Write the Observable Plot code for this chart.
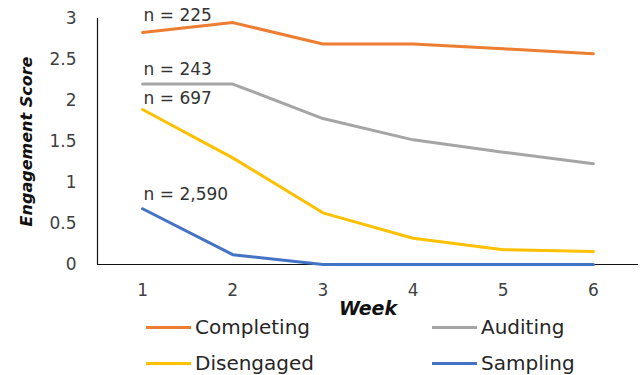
<!DOCTYPE html>
<html>
<head>
<meta charset="utf-8">
<script src="https://cdn.jsdelivr.net/npm/d3@7"></script>
<script src="https://cdn.jsdelivr.net/npm/@observablehq/plot@0.6"></script>
<style>
  html, body { margin: 0; padding: 0; background: #fff; }
  #chart { width: 641px; font-family: "DejaVu Sans", sans-serif; }
  #chart svg { display: block; overflow: visible; }
  .legend { position: relative; height: 53px; width: 641px; font-family: "DejaVu Sans", sans-serif; font-size: 20px; color: #262626; }
  .item { position: absolute; display: flex; align-items: center; height: 24px; line-height: 24px; }
  .sw { width: 45px; height: 3px; margin-right: 4px; }
</style>
</head>
<body>
<div id="chart"></div>
<script>
const weeks = [1, 2, 3, 4, 5, 6];
const seriesNames = ["Completing", "Auditing", "Disengaged", "Sampling"];
const colors = ["#ED7D31", "#A5A5A5", "#FFC000", "#4472C4"];
const completing = [2.83, 2.95, 2.69, 2.69, 2.63, 2.57];
const auditing = [2.20, 2.20, 1.78, 1.52, 1.37, 1.23];
const disengaged = [1.89, 1.30, 0.63, 0.32, 0.18, 0.16];
const sampling = [0.68, 0.12, 0.0, 0.0, 0.0, 0.0];
const nLabels = ["n = 225", "n = 243", "n = 697", "n = 2,590"];
const nLabelY = [3.04, 2.38, 2.02, 0.855];
const yTicks = [0, 0.5, 1, 1.5, 2, 2.5, 3];

const values = [completing, auditing, disengaged, sampling];
const data = [];
seriesNames.forEach((s, i) => weeks.forEach((w, j) => data.push({series: s, week: w, value: values[i][j]})));
const labels = nLabels.map((t, i) => ({text: t, week: weeks[0], y: nLabelY[i]}));

const xDomain = [0.5, 6.5];

const chart = Plot.plot({
  width: 641,
  height: 322,
  marginLeft: 97,
  marginRight: 3,
  marginTop: 18,
  marginBottom: 58,
  style: {fontFamily: "DejaVu Sans, sans-serif", fontSize: "17px", color: "#404040"},
  x: {domain: xDomain},
  y: {domain: [0, 3]},
  color: {domain: seriesNames, range: colors},
  marks: [
    Plot.axisX({ticks: weeks, tickFormat: d => String(d), tickSize: 0, tickPadding: 19, fontSize: 17, label: "Week", labelAnchor: "center", labelOffset: 50, labelArrow: "none"}),
    Plot.axisY({ticks: yTicks, tickFormat: d => String(d), tickSize: 0, tickPadding: 21, fontSize: 17, label: null}),
    Plot.text(["Engagement Score"], {frameAnchor: "left", textAnchor: "middle", dx: -71, rotate: -90, fontSize: 16, fontWeight: "bold", fontStyle: "italic", fill: "#111"}),
    Plot.ruleY([0], {stroke: "#111", strokeWidth: 1.2}),
    Plot.ruleX([xDomain[0]], {y1: 0, y2: 3, stroke: "#111", strokeWidth: 1.2}),
    Plot.line(data, {x: "week", y: "value", z: "series", stroke: "series", strokeWidth: 3}),
    Plot.text(labels, {x: "week", y: "y", text: "text", textAnchor: "start", dx: 1, fontSize: 17, fill: "#333"})
  ]
});
chart.querySelectorAll("text").forEach(t => {
  if (t.textContent === "Week") {
    t.setAttribute("font-weight", "bold");
    t.setAttribute("font-style", "italic");
    t.setAttribute("font-size", "19");
    t.setAttribute("fill", "#111");
  }
});
document.getElementById("chart").appendChild(chart);

// Legend (HTML, below the SVG)
const legend = document.createElement("div");
legend.className = "legend";
const colX = [146, 432];
const rowTop = [327 - 12 - 322, 363 - 12 - 322];
seriesNames.forEach((s, i) => {
  const it = document.createElement("div");
  it.className = "item";
  it.style.left = colX[i % 2] + "px";
  it.style.top = rowTop[Math.floor(i / 2)] + "px";
  it.innerHTML = `<span class="sw" style="background:${colors[i]}"></span><span>${s}</span>`;
  legend.appendChild(it);
});
document.getElementById("chart").appendChild(legend);
</script>
</body>
</html>
